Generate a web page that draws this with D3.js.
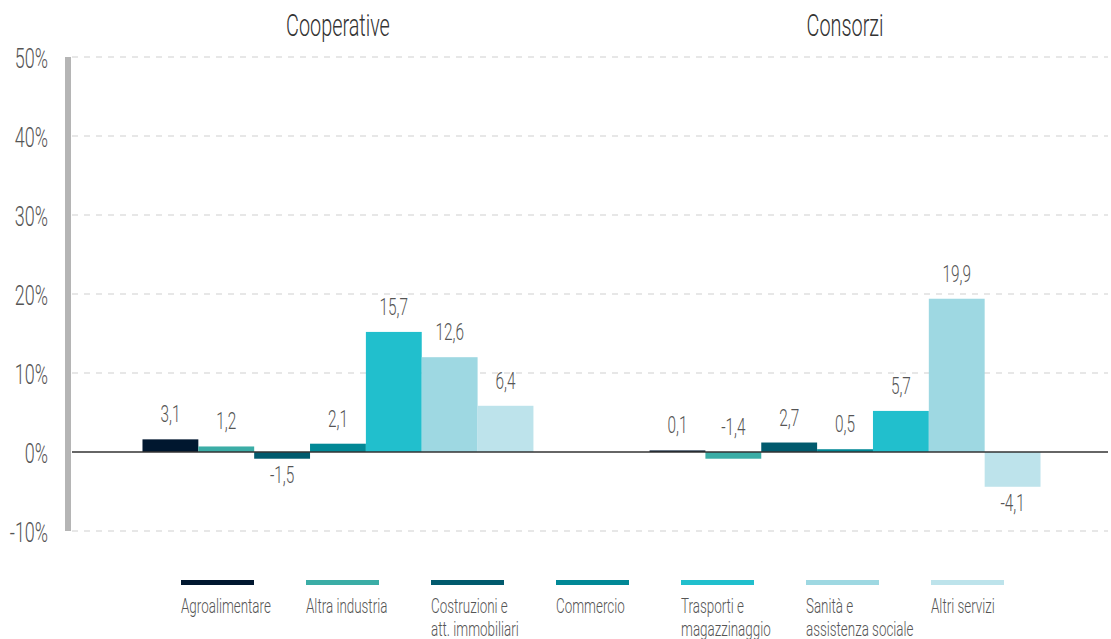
<!DOCTYPE html>
<html>
<head>
<meta charset="utf-8">
<script src="https://cdn.jsdelivr.net/npm/d3@7"></script>
<style>
  body { margin: 0; background: #fff; }
  svg { display: block; font-family: Roboto, "Open Sans", sans-serif; font-weight: 300; }
</style>
</head>
<body>
<svg id="chart" width="1111" height="639"></svg>
<script>
// groups and sectors
var groups = ["Cooperative", "Consorzi"];
var sectors = ["Agroalimentare", "Altra industria", "Costruzioni e|att. immobiliari", "Commercio",
    "Trasporti e|magazzinaggio", "Sanità e|assistenza sociale", "Altri servizi"];
var colors = ["#00172f", "#3badA6", "#015a6d", "#018896", "#21bfcd", "#9ed8e2", "#bde3eb"];

// bar heights as drawn (%)
var coopValues = [1.6, 0.7, -0.85, 1.05, 15.2, 12.0, 5.85];
var consValues = [0.2, -0.85, 1.2, 0.35, 5.2, 19.4, -4.4];

// printed value labels
var coopLabels = ["3,1", "1,2", "-1,5", "2,1", "15,7", "12,6", "6,4"];
var consLabels = ["0,1", "-1,4", "2,7", "0,5", "5,7", "19,9", "-4,1"];
var coopLabelBelow = [false, false, true, false, false, false, false];
var consLabelBelow = [false, false, false, false, false, false, true];

var yTicks = [-10, 0, 10, 20, 30, 40, 50];

function drawChart() {
    var svg = d3.select("#chart");
    var plotLeft = 72, plotRight = 1111, plotTop = 57, plotBottom = 531;

    var y = d3.scaleLinear().domain([-10, 50]).range([plotBottom, plotTop]);
    var x0 = d3.scaleBand().domain(groups).range([plotLeft, plotRight]).paddingInner(0.229).paddingOuter(0.139);
    var x1 = d3.scaleBand().domain(d3.range(sectors.length)).range([0, x0.bandwidth()]);

    // squeeze text horizontally to mimic the condensed face
    function squeezed(sel, x, yy, str, size, anchor, fill, sx) {
        return sel.append("text")
            .attr("transform", "translate(" + x + "," + yy + ") scale(" + (sx || 0.64) + ",1)")
            .attr("text-anchor", anchor)
            .attr("font-size", size)
            .attr("fill", fill)
            .text(str);
    }

    // gridlines
    yTicks.forEach(function (t) {
        if (t !== 0) {
            svg.append("line")
                .attr("x1", plotLeft).attr("x2", plotRight - 3)
                .attr("y1", y(t)).attr("y2", y(t))
                .attr("stroke", "#cfcfcf").attr("stroke-width", 1)
                .attr("stroke-dasharray", "6,6");
        }
        squeezed(svg, 48, y(t) + 11, t + "%", 28, "end", "#555");
    });

    // grey axis bar
    svg.append("rect")
        .attr("x", 65).attr("width", 6)
        .attr("y", y(50)).attr("height", y(-10) - y(50))
        .attr("fill", "#b5b5b5");

    var data = [
        { g: groups[0], values: coopValues, labels: coopLabels, below: coopLabelBelow },
        { g: groups[1], values: consValues, labels: consLabels, below: consLabelBelow }
    ];

    data.forEach(function (d) {
        var gx = x0(d.g);
        var grp = svg.append("g").attr("transform", "translate(" + gx + ",0)");
        grp.selectAll("rect")
            .data(d.values)
            .join("rect")
            .attr("x", function (v, i) { return x1(i); })
            .attr("width", x1.bandwidth())
            .attr("y", function (v) { return y(Math.max(0, v)); })
            .attr("height", function (v) { return Math.abs(y(v) - y(0)); })
            .attr("fill", function (v, i) { return colors[i]; });

        d.values.forEach(function (v, i) {
            var cx = x1(i) + x1.bandwidth() / 2;
            var ly = d.below[i] ? y(Math.min(0, v)) + 24 : y(Math.max(0, v)) - 17;
            squeezed(grp, cx, ly, d.labels[i], 24, "middle", "#555");
        });

        squeezed(svg, gx + x0.bandwidth() / 2, 36, d.g, 31, "middle", "#333");
    });

    // zero line
    svg.append("line")
        .attr("x1", plotLeft).attr("x2", plotRight - 3)
        .attr("y1", y(0)).attr("y2", y(0))
        .attr("stroke", "#333").attr("stroke-width", 1.3);

    // legend
    var legend = svg.append("g");
    sectors.forEach(function (s, i) {
        var lx = 181 + i * 125;
        legend.append("rect")
            .attr("x", lx).attr("y", 580)
            .attr("width", 73).attr("height", 5)
            .attr("fill", colors[i]);
        s.split("|").forEach(function (line, k) {
            squeezed(legend, lx, 613 + k * 23, line, 20, "start", "#555", 0.67);
        });
    });
}

drawChart();
</script>
</body>
</html>
